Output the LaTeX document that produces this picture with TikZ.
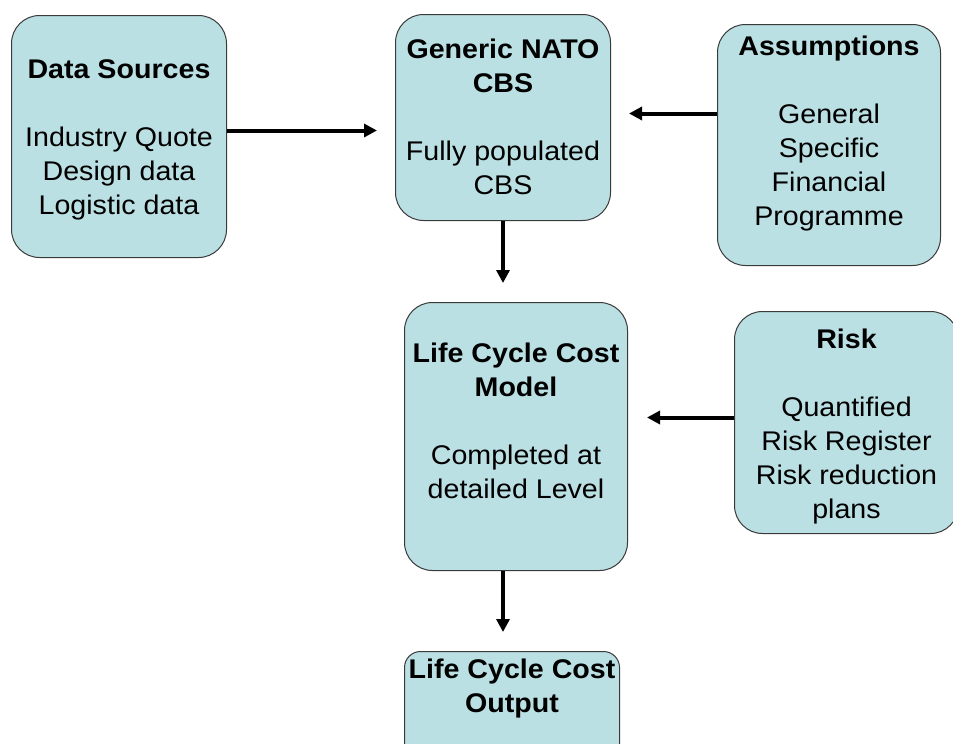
\documentclass[tikz,border=0pt]{standalone}
\usepackage{fontspec}
\setmainfont[FakeStretch=1.06]{Liberation Sans}
\usetikzlibrary{arrows.meta}
\definecolor{boxfill}{HTML}{BBE0E3}
\definecolor{boxline}{HTML}{3A3A3A}
% width, height, gap above first line, text
\newcommand{\boxtext}[4]{\parbox[t][#2][t]{#1}{\centering\vspace*{#3}#4}}
\begin{document}
\begin{tikzpicture}[
    x=1pt, y=-1pt,
    block/.style={
        rectangle,
        draw=boxline,
        line width=1pt,
        fill=boxfill,
        rounded corners=28pt,
        inner sep=0pt,
        anchor=north west,
        font=\fontsize{27}{34}\selectfont
    },
    line/.style={
        draw, line width=4pt,
        -{Triangle[length=13pt,width=13pt]}
    }
]
\useasboundingbox (0,0) rectangle (953,744);
\clip (0,0) rectangle (953,744);

% Nodes
\node [block] (data) at (11,15) {\boxtext{215pt}{242pt}{44pt}{\textbf{Data Sources}\\[34pt]Industry Quote\\Design data\\Logistic data}};
\node [block] (cbs) at (395,14) {\boxtext{215pt}{206pt}{24pt}{\textbf{Generic NATO}\\\textbf{CBS}\\[34pt]Fully populated\\CBS}};
\node [block] (asm) at (717,24) {\boxtext{223pt}{241pt}{11pt}{\textbf{Assumptions}\\[34pt]General\\Specific\\Financial\\Programme}};
\node [block] (lcc) at (404,302) {\boxtext{223pt}{268pt}{40pt}{\textbf{Life Cycle Cost}\\\textbf{Model}\\[34pt]Completed at\\detailed Level}};
\node [block] (risk) at (734,311) {\boxtext{224pt}{222pt}{17pt}{\textbf{Risk}\\[34pt]Quantified\\Risk Register\\Risk reduction\\plans}};
\node [block, rounded corners=16pt] (out) at (404,651) {\boxtext{215pt}{112pt}{7pt}{\textbf{Life Cycle Cost}\\\textbf{Output}}};

\coordinate (dataout) at ([yshift=6pt]data.east);
\coordinate (asmout) at ([yshift=31.5pt]asm.west);
\coordinate (riskout) at ([yshift=5pt]risk.west);

% Arrows
\draw [line, shorten >=18pt] (dataout) -- (dataout -| cbs.west);
\draw [line, shorten >=18pt] (asmout) -- (asmout -| cbs.east);
\draw [line, shorten >=19pt] (cbs.south) -- (cbs.south |- lcc.north);
\draw [line, shorten >=19pt] (riskout) -- (riskout -| lcc.east);
\draw [line, shorten >=19pt] (lcc.south -| cbs.south) -- (out.north -| cbs.south);

\end{tikzpicture}
\end{document}
